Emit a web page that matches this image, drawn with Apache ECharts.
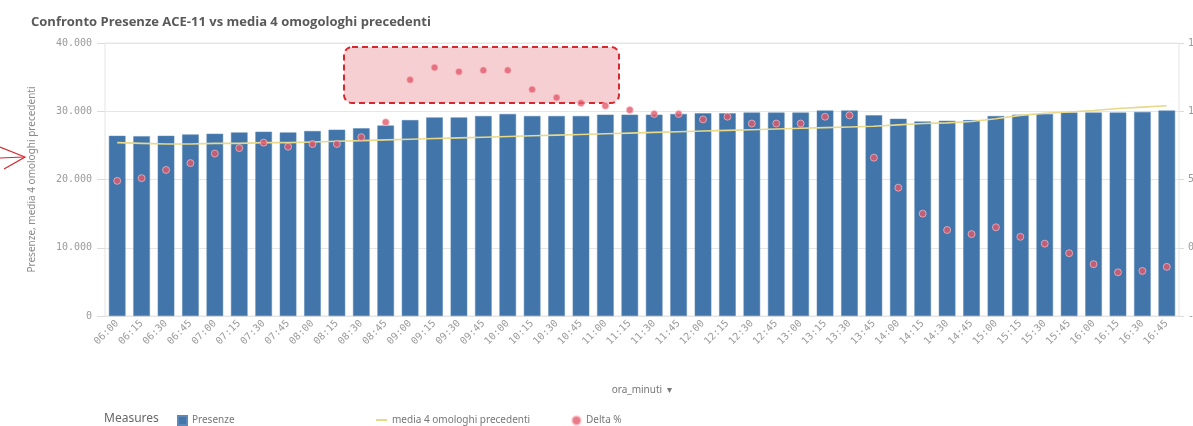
<!DOCTYPE html>
<html>
<head>
<meta charset="utf-8">
<script src="https://cdn.jsdelivr.net/npm/echarts@6/dist/echarts.min.js"></script>
<style>
  html, body { margin: 0; padding: 0; background: #fff; }
  #chart { width: 1193px; height: 426px; }
</style>
</head>
<body>
<div id="chart"></div>
<script>
// categorie (ora_minuti)
const oraMinuti = ['06:00','06:15','06:30','06:45','07:00','07:15','07:30','07:45','08:00','08:15','08:30','08:45',
  '09:00','09:15','09:30','09:45','10:00','10:15','10:30','10:45','11:00','11:15','11:30','11:45',
  '12:00','12:15','12:30','12:45','13:00','13:15','13:30','13:45','14:00','14:15','14:30','14:45',
  '15:00','15:15','15:30','15:45','16:00','16:15','16:30','16:45'];

// Presenze (barre)
const presenze = [26400,26350,26400,26600,26700,26900,27000,26900,27100,27300,27500,27900,
  28700,29100,29100,29300,29600,29300,29300,29300,29500,29500,29500,29600,
  29700,29700,29800,29800,29800,30100,30100,29400,28900,28500,28600,28700,
  29300,29500,29600,29800,29800,29800,29900,30100];

// media 4 omologhi precedenti (linea)
const media4 = [25400,25300,25200,25200,25300,25300,25400,25400,25500,25600,25700,25800,
  25900,26000,26100,26200,26300,26400,26500,26600,26700,26800,26900,27000,
  27100,27200,27300,27400,27500,27600,27700,27800,28000,28200,28300,28500,
  28900,29400,29700,29900,30100,30400,30600,30800];

// Delta % (punti, asse destro)
const deltaPct = [4.9,5.1,5.7,6.2,6.9,7.3,7.7,7.4,7.6,7.6,8.1,9.2,
  12.3,13.2,12.9,13.0,13.0,11.6,11.0,10.6,10.4,10.1,9.8,9.8,
  9.4,9.6,9.1,9.1,9.1,9.6,9.7,6.6,4.4,2.5,1.3,1.0,
  1.5,0.8,0.3,-0.4,-1.2,-1.8,-1.7,-1.4];

const leftTicks = [0, 10000, 20000, 30000, 40000];

const myChart = echarts.init(document.getElementById('chart'));

const monoLabel = { color: '#9a9a9a', fontSize: 10, fontFamily: 'DejaVu Sans Mono' };
const legendText = { color: '#777', fontSize: 10, fontFamily: 'Noto Sans' };

const option = {
  animation: false,
  backgroundColor: '#fff',
  title: {
    text: 'Confronto Presenze ACE-11 vs media 4 omogologhi precedenti',
    left: 26, top: 11,
    textStyle: { fontSize: 13, fontWeight: 'bold', color: '#595959', fontFamily: 'Open Sans' }
  },
  grid: {
    left: 105, right: 14, top: 43, bottom: 110,
    containLabel: false, outerBoundsMode: 'none',
    show: true, borderColor: '#e4e4e4', borderWidth: 1
  },
  legend: [
    { left: 172, top: 410, itemWidth: 9, itemHeight: 9, textStyle: legendText, data: [{ name: 'Presenze', icon: 'rect' }] },
    { left: 371, top: 410, itemWidth: 11, itemHeight: 2, itemGap: 6, textStyle: legendText, data: [{ name: 'media 4 omologhi precedenti', icon: 'rect' }] },
    { left: 566, top: 410, itemWidth: 9, itemHeight: 9, textStyle: legendText, data: [{ name: 'Delta %', icon: 'circle' }] }
  ],
  xAxis: {
    type: 'category',
    data: oraMinuti,
    name: 'ora_minuti  \u25BE',
    nameLocation: 'middle',
    nameGap: 69,
    nameTextStyle: { color: '#777', fontSize: 10, fontFamily: 'Noto Sans' },
    axisLine: { lineStyle: { color: '#e4e4e4' } },
    axisTick: { show: false },
    axisLabel: Object.assign({ rotate: 45, margin: 6, interval: 0 }, monoLabel)
  },
  yAxis: [
    {
      type: 'value', min: leftTicks[0], max: leftTicks[leftTicks.length - 1], interval: 10000,
      name: 'Presenze, media 4 omologhi precedenti',
      nameLocation: 'middle', nameGap: 68,
      nameTextStyle: { color: '#8a8a8a', fontSize: 10, fontFamily: 'Noto Sans' },
      axisLine: { show: false },
      axisTick: { show: true, length: 8, lineStyle: { color: '#dcdcdc' } },
      splitLine: { lineStyle: { color: '#e6e6e6' } },
      axisLabel: Object.assign({ margin: 13, formatter: v => v.toLocaleString('de-DE') }, monoLabel)
    },
    {
      type: 'value', min: -5, max: 15, interval: 5, position: 'right',
      axisLine: { show: false },
      axisTick: { show: true, length: 5, lineStyle: { color: '#dcdcdc' } },
      splitLine: { show: false },
      axisLabel: Object.assign({ margin: 9, formatter: v => v + '%' }, monoLabel)
    }
  ],
  graphic: [
    {
      type: 'rect', z: 0,
      shape: { x: 344, y: 47, width: 275, height: 56, r: 8 },
      style: { fill: 'rgba(226,96,106,0.3)', stroke: '#d8262f', lineWidth: 2, lineDash: [6, 4] }
    },
    {
      type: 'polyline',
      shape: { points: [[0, 147], [25, 157], [4, 169]] },
      style: { stroke: '#d8262f', lineWidth: 1.2, fill: null }
    },
    {
      type: 'line',
      shape: { x1: 0, y1: 158, x2: 24, y2: 157 },
      style: { stroke: '#d8262f', lineWidth: 1.2 }
    },
    {
      type: 'text', left: 104, top: 413,
      style: { text: 'Measures', fill: '#666', fontSize: 12, fontFamily: 'Noto Sans' }
    }
  ],
  series: [
    {
      name: 'Presenze', type: 'bar', data: presenze, barWidth: '68%', z: 2,
      itemStyle: { color: '#4275a9', borderColor: '#5b88b8', borderWidth: 0.5 }
    },
    {
      name: 'media 4 omologhi precedenti', type: 'line', data: media4, z: 3,
      symbol: 'none', lineStyle: { color: '#e8d88a', width: 1.6 },
      itemStyle: { color: '#e8d88a' }
    },
    {
      name: 'Delta %', type: 'scatter', yAxisIndex: 1, data: deltaPct, z: 4,
      symbolSize: 7,
      itemStyle: { color: '#e15a6b', borderColor: 'rgba(255,200,205,0.8)', borderWidth: 1 }
    }
  ]
};

myChart.setOption(option);
</script>
</body>
</html>
